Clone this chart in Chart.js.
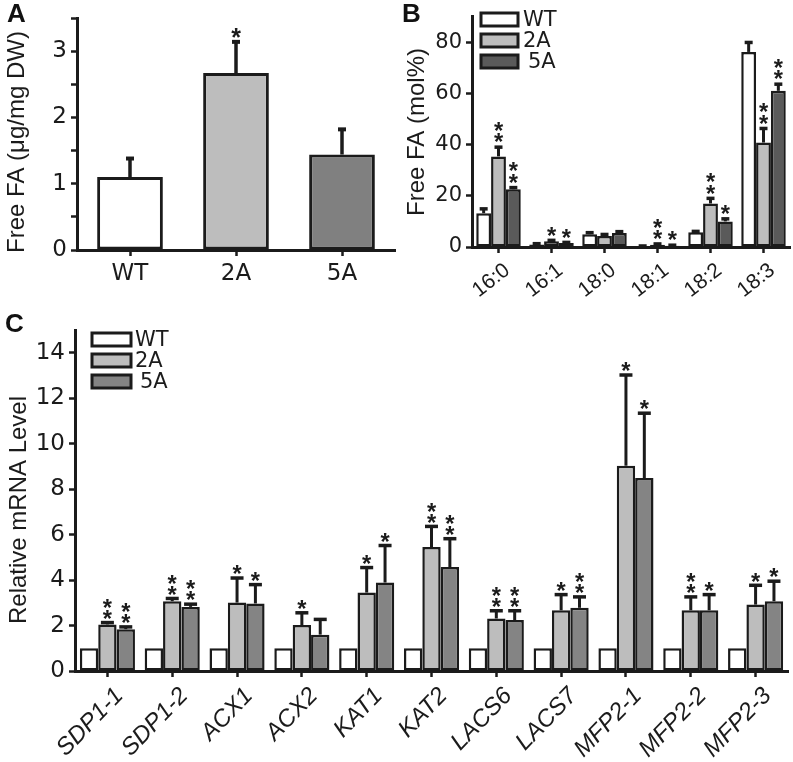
<!DOCTYPE html>
<html><head><meta charset="utf-8">
<script src="https://cdn.jsdelivr.net/npm/chart.js@4.4.1/dist/chart.umd.min.js"></script>
<style>
html,body{margin:0;padding:0;background:#fff;}
body{width:793px;height:762px;position:relative;overflow:hidden;font-family:"Liberation Sans",Arial,sans-serif;}
.wrap{position:absolute;}
.wrap canvas{display:block;}
.plabel{position:absolute;font-weight:bold;font-size:26px;line-height:1;color:#111;font-family:"Liberation Sans",Arial,sans-serif;}
</style></head><body>
<div class="wrap" style="left:0;top:0"><canvas id="cA" width="400" height="300"></canvas></div>
<div class="wrap" style="left:400px;top:0"><canvas id="cB" width="393" height="300"></canvas></div>
<div class="wrap" style="left:0;top:300px"><canvas id="cC" width="793" height="462"></canvas></div>
<div class="plabel" style="left:7px;top:0">A</div>
<div class="plabel" style="left:402px;top:0">B</div>
<div class="plabel" style="left:5px;top:310px">C</div>
<script>
// ---------- DATA ----------
// Panel A: total free fatty acids
const genotypes = ['WT', '2A', '5A'];
const totalFA = [1.10, 2.67, 1.44];
const totalFASD = [0.28, 0.47, 0.38];
const totalFASig = ['', '*', ''];

// Panel B: free FA composition (mol%)
const fattyAcids = ['16:0', '16:1', '18:0', '18:1', '18:2', '18:3'];
const molWT = [13.2, 1.0, 5.0, 0.3, 5.8, 76.2];
const molWTSD = [1.7, 0.3, 0.6, 0.1, 0.3, 3.7];
const mol2A = [35.4, 2.2, 4.3, 0.9, 17.0, 40.8];
const mol2ASD = [3.6, 0.4, 0.6, 0.3, 2.0, 5.5];
const mol5A = [22.6, 1.6, 5.5, 0.5, 10.0, 61.0];
const mol5ASD = [0.6, 0.2, 0.5, 0.2, 1.0, 2.6];
const mol2ASig = ['**', '*', '', '**', '**', '**'];
const mol5ASig = ['**', '*', '', '*', '*', '**'];

// Panel C: relative mRNA level
const genes = ['SDP1-1', 'SDP1-2', 'ACX1', 'ACX2', 'KAT1', 'KAT2', 'LACS6', 'LACS7', 'MFP2-1', 'MFP2-2', 'MFP2-3'];
const mrnaWT = [1, 1, 1, 1, 1, 1, 1, 1, 1, 1, 1];
const mrna2A = [2.05, 3.07, 3.01, 2.02, 3.45, 5.45, 2.31, 2.67, 9.03, 2.67, 2.92];
const mrna2ASD = [0.08, 0.12, 1.08, 0.54, 1.10, 0.91, 0.34, 0.69, 3.99, 0.59, 0.85];
const mrna5A = [1.84, 2.82, 2.97, 1.60, 3.89, 4.57, 2.24, 2.78, 8.49, 2.67, 3.07];
const mrna5ASD = [0.10, 0.12, 0.83, 0.67, 1.63, 1.25, 0.41, 0.48, 2.85, 0.69, 0.88];
const mrna2ASig = ['**', '**', '*', '*', '*', '**', '**', '*', '*', '**', '*'];
const mrna5ASig = ['**', '**', '*', '', '*', '**', '**', '**', '*', '*', '*'];

// ---------- STYLE ----------
const INK = '#1b1b1b';
const FAM = "'Liberation Sans', Arial, sans-serif";
const TFAM = "'DejaVu Sans', sans-serif";
const COL_WT = '#ffffff', COL_2A = '#bdbdbd', COL_5A_A = '#808080', COL_5A_B = '#5a5a5a', COL_5A_C = '#848484';
Chart.defaults.font.family = FAM;
Chart.defaults.color = INK;

// error bars + significance stars, drawn from the bar elements and y scale
const errStars = {
  id: 'errStars',
  afterDatasetsDraw(chart, args, o) {
    const ctx = chart.ctx, ys = chart.scales.y;
    ctx.save();
    ctx.font = 'bold 100px ' + FAM;
    let m = ctx.measureText('*');
    const h100 = m.actualBoundingBoxAscent + m.actualBoundingBoxDescent;
    const fs = 100 * o.starH / h100;
    ctx.font = 'bold ' + fs + 'px ' + FAM;
    m = ctx.measureText('*');
    const desc = m.actualBoundingBoxDescent;
    chart.data.datasets.forEach((ds, di) => {
      const meta = chart.getDatasetMeta(di);
      meta.data.forEach((bar, i) => {
        const v = ds.data[i];
        const e = (ds.errors && ds.errors[i]) || 0;
        const x = bar.x;
        const yTop = ys.getPixelForValue(v);
        let refY = yTop;
        if (e > 0) {
          const yE = ys.getPixelForValue(v + e);
          ctx.strokeStyle = INK;
          ctx.lineWidth = o.lineW;
          ctx.beginPath(); ctx.moveTo(x, yTop); ctx.lineTo(x, yE); ctx.stroke();
          ctx.lineWidth = o.capT;
          ctx.beginPath(); ctx.moveTo(x - o.capW / 2, yE); ctx.lineTo(x + o.capW / 2, yE); ctx.stroke();
          refY = yE - o.capT / 2;
        }
        const s = (ds.sig && ds.sig[i]) || '';
        ctx.fillStyle = INK;
        ctx.textAlign = 'center';
        ctx.textBaseline = 'alphabetic';
        for (let k = 0; k < s.length; k++) {
          const bottom = refY - o.gap - k * o.step;
          ctx.fillText('*', x, bottom - desc);
        }
      });
    });
    ctx.restore();
  }
};

// boxed legend stacked vertically inside the plot
const boxLegend = {
  id: 'boxLegend',
  afterDraw(chart, args, o) {
    if (!o || !o.show) return;
    const ctx = chart.ctx;
    ctx.save();
    chart.data.datasets.forEach((ds, i) => {
      const y = o.top + i * o.step;
      ctx.fillStyle = ds.backgroundColor;
      ctx.fillRect(o.left, y, o.boxW, o.boxH);
      ctx.strokeStyle = INK;
      ctx.lineWidth = o.lineW;
      ctx.strokeRect(o.left, y, o.boxW, o.boxH);
      ctx.fillStyle = INK;
      ctx.font = o.fontSize + 'px ' + TFAM;
      ctx.textAlign = 'left';
      ctx.textBaseline = 'middle';
      ctx.fillText(ds.label, o.textX + (o.shift[i] || 0), y + o.boxH / 2 + 1);
    });
    ctx.restore();
  }
};

// vertical y-axis title placed at a given centre
const yTitle = {
  id: 'yTitle',
  afterDraw(chart, args, o) {
    if (!o || !o.text) return;
    const ctx = chart.ctx;
    ctx.save();
    ctx.translate(o.cx, o.cy);
    ctx.rotate(-Math.PI / 2);
    ctx.font = o.size + 'px ' + FAM;
    ctx.fillStyle = INK;
    ctx.textAlign = 'center';
    ctx.textBaseline = 'middle';
    ctx.fillText(o.text, 0, 0);
    ctx.restore();
  }
};

function tickGrid() {
  return { display: true, drawOnChartArea: false, drawTicks: true, tickLength: 6, tickWidth: 2.5, tickColor: INK, offset: false };
}
function border() { return { display: true, color: INK, width: 3 }; }

// ---------- PANEL A ----------
new Chart(document.getElementById('cA'), {
  type: 'bar',
  data: {
    labels: genotypes,
    datasets: [{
      label: 'Free FA', data: totalFA, errors: totalFASD, sig: totalFASig,
      backgroundColor: [COL_WT, COL_2A, COL_5A_A], borderColor: INK, borderWidth: 3, borderSkipped: false,
      categoryPercentage: 1, barPercentage: 0.62
    }]
  },
  options: {
    responsive: false, animation: false, devicePixelRatio: 1,
    layout: { padding: { top: 18, right: 5, left: 0, bottom: 0 } },
    plugins: { legend: { display: false }, tooltip: { enabled: false },
      errStars: { lineW: 3.5, capW: 8, capT: 4, gap: 1.5, step: 11, starH: 9.5 },
      yTitle: { text: 'Free FA (μg/mg DW)', cx: 17, cy: 142, size: 24 } },
    scales: {
      x: { grid: tickGrid(), border: border(),
        ticks: { font: { size: 23, family: TFAM }, color: INK, padding: 4, maxRotation: 0 },
        afterFit: s => { s.height = 50; } },
      y: { min: 0, max: 3.5, grid: tickGrid(), border: border(),
        ticks: { stepSize: 0.5, font: { size: 23, family: TFAM }, color: INK, padding: 4,
          callback: v => (Number.isInteger(v) ? String(v) : '') },
        afterFit: s => { s.width = 77; } }
    }
  },
  plugins: [errStars, yTitle]
});

// ---------- PANEL B ----------
new Chart(document.getElementById('cB'), {
  type: 'bar',
  data: {
    labels: fattyAcids,
    datasets: [
      { label: 'WT', data: molWT, errors: molWTSD, sig: [], backgroundColor: COL_WT },
      { label: '2A', data: mol2A, errors: mol2ASD, sig: mol2ASig, backgroundColor: COL_2A },
      { label: '5A', data: mol5A, errors: mol5ASD, sig: mol5ASig, backgroundColor: COL_5A_B }
    ].map(d => Object.assign(d, { borderColor: INK, borderWidth: 2.5, borderSkipped: false, categoryPercentage: 0.84, barPercentage: 1 }))
  },
  options: {
    responsive: false, animation: false, devicePixelRatio: 1,
    layout: { padding: { top: 13, right: 3, left: 0, bottom: 0 } },
    plugins: { legend: { display: false }, tooltip: { enabled: false },
      errStars: { lineW: 3, capW: 8, capT: 3.5, gap: 3, step: 11.5, starH: 9 },
      boxLegend: { show: true, left: 81, top: 13, step: 21, boxW: 37, boxH: 13, lineW: 3, textX: 123, fontSize: 21, shift: [0, 0, 5] },
      yTitle: { text: 'Free FA (mol%)', cx: 17, cy: 132, size: 24 } },
    scales: {
      x: { grid: tickGrid(), border: border(),
        ticks: { font: { size: 21, family: FAM }, color: INK, padding: 5, labelOffset: 9, minRotation: 38, maxRotation: 38, autoSkip: false },
        afterFit: s => { s.height = 53; } },
      y: { min: 0, max: 90, grid: tickGrid(), border: border(),
        ticks: { stepSize: 20, includeBounds: false, font: { size: 21, family: TFAM }, color: INK, padding: 4 },
        afterFit: s => { s.width = 72; } }
    }
  },
  plugins: [errStars, boxLegend, yTitle]
});

// ---------- PANEL C ----------
new Chart(document.getElementById('cC'), {
  type: 'bar',
  data: {
    labels: genes,
    datasets: [
      { label: 'WT', data: mrnaWT, errors: [], sig: [], backgroundColor: COL_WT },
      { label: '2A', data: mrna2A, errors: mrna2ASD, sig: mrna2ASig, backgroundColor: COL_2A },
      { label: '5A', data: mrna5A, errors: mrna5ASD, sig: mrna5ASig, backgroundColor: COL_5A_C }
    ].map(d => Object.assign(d, { borderColor: INK, borderWidth: 2.5, borderSkipped: false, categoryPercentage: 0.85, barPercentage: 1 }))
  },
  options: {
    responsive: false, animation: false, devicePixelRatio: 1,
    layout: { padding: { top: 30, right: 5, left: 0, bottom: 0 } },
    plugins: { legend: { display: false }, tooltip: { enabled: false },
      errStars: { lineW: 3, capW: 13, capT: 3.5, gap: 2, step: 11, starH: 9 },
      boxLegend: { show: true, left: 92, top: 33, step: 21, boxW: 39, boxH: 13, lineW: 3, textX: 135, fontSize: 21, shift: [0, 0, 5] },
      yTitle: { text: 'Relative mRNA Level', cx: 19.5, cy: 210, size: 24 } },
    scales: {
      x: { grid: tickGrid(), border: border(),
        ticks: { font: { size: 24, style: 'italic' }, color: INK, padding: 5, labelOffset: 12, minRotation: 46, maxRotation: 46, autoSkip: false },
        afterFit: s => { s.height = 91; } },
      y: { min: 0, max: 15, grid: tickGrid(), border: border(),
        ticks: { stepSize: 2, includeBounds: false, font: { size: 23, family: TFAM }, color: INK, padding: 4 },
        afterFit: s => { s.width = 75; } }
    }
  },
  plugins: [errStars, boxLegend, yTitle]
});
</script>
</body></html>
